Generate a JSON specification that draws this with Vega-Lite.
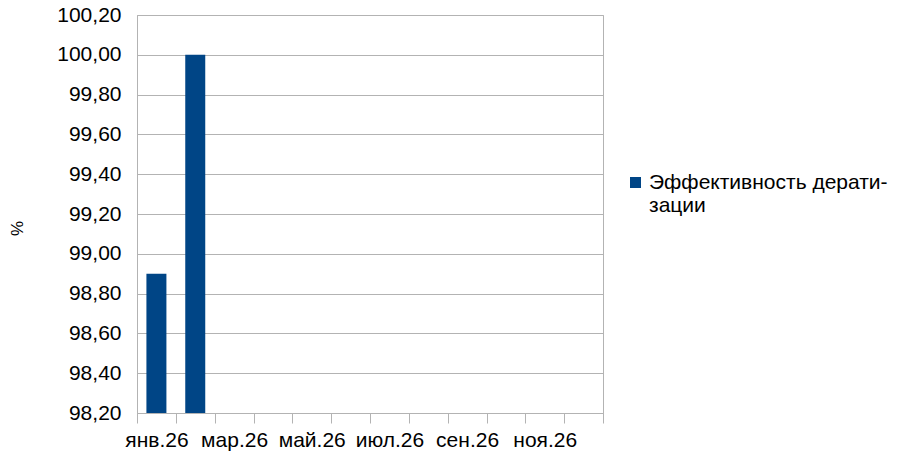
{
  "$schema": "https://vega.github.io/schema/vega-lite/v6.json",
  "width": 466,
  "height": 398,
  "autosize": {"type": "none"},
  "padding": {"left": 137, "top": 15, "right": 295, "bottom": 46},
  "background": "white",
  "config": {
    "font": "Liberation Sans",
    "view": {"stroke": "#b3b3b3", "strokeWidth": 1}
  },
  "data": {
    "values": [
      {"month": "янв.26", "series": "Эффективность дератизации", "value": 98.9},
      {"month": "фев.26", "series": "Эффективность дератизации", "value": 100.0},
      {"month": "мар.26", "series": "Эффективность дератизации", "value": null},
      {"month": "апр.26", "series": "Эффективность дератизации", "value": null},
      {"month": "май.26", "series": "Эффективность дератизации", "value": null},
      {"month": "июн.26", "series": "Эффективность дератизации", "value": null},
      {"month": "июл.26", "series": "Эффективность дератизации", "value": null},
      {"month": "авг.26", "series": "Эффективность дератизации", "value": null},
      {"month": "сен.26", "series": "Эффективность дератизации", "value": null},
      {"month": "окт.26", "series": "Эффективность дератизации", "value": null},
      {"month": "ноя.26", "series": "Эффективность дератизации", "value": null},
      {"month": "дек.26", "series": "Эффективность дератизации", "value": null}
    ]
  },
  "mark": {"type": "bar", "width": {"band": 0.515}, "clip": true},
  "encoding": {
    "x": {
      "field": "month",
      "type": "ordinal",
      "sort": null,
      "scale": {
        "domain": ["янв.26", "фев.26", "мар.26", "апр.26", "май.26", "июн.26", "июл.26", "авг.26", "сен.26", "окт.26", "ноя.26", "дек.26"],
        "paddingInner": 0,
        "paddingOuter": 0
      },
      "axis": {
        "title": null,
        "tickBand": "extent",
        "tickSize": 10,
        "tickColor": "#b3b3b3",
        "domainColor": "#b3b3b3",
        "labelAngle": 0,
        "labelFontSize": 21,
        "labelColor": "#000000",
        "labelPadding": 6,
        "labelOverlap": false,
        "labelExpr": "indexof(['янв.26','мар.26','май.26','июл.26','сен.26','ноя.26'], datum.value) >= 0 ? datum.value : ''",
        "grid": false
      }
    },
    "y": {
      "field": "value",
      "type": "quantitative",
      "scale": {"domain": [98.2, 100.2], "zero": false, "nice": false},
      "axis": {
        "title": "%",
        "titleFontSize": 17,
        "titleFontWeight": "normal",
        "titleColor": "#000000",
        "titleX": -111,
        "titleY": 213,
        "values": [98.2, 98.4, 98.6, 98.8, 99.0, 99.2, 99.4, 99.6, 99.8, 100.0, 100.2],
        "labelExpr": "replace(format(datum.value, '.2f'), '.', ',')",
        "labelFontSize": 21,
        "labelColor": "#000000",
        "labelPadding": 16,
        "ticks": false,
        "domainColor": "#b3b3b3",
        "gridColor": "#b3b3b3",
        "grid": true
      }
    },
    "color": {
      "field": "series",
      "type": "nominal",
      "scale": {"range": ["#004586"]},
      "legend": {
        "title": null,
        "orient": "none",
        "legendX": 488,
        "legendY": 157,
        "symbolType": "square",
        "symbolSize": 121,
        "symbolStrokeWidth": 0,
        "labelFontSize": 21,
        "labelColor": "#000000",
        "labelLimit": 300,
        "labelOffset": 3,
        "labelExpr": "['Эффективность дерати-', 'зации']"
      }
    }
  }
}
